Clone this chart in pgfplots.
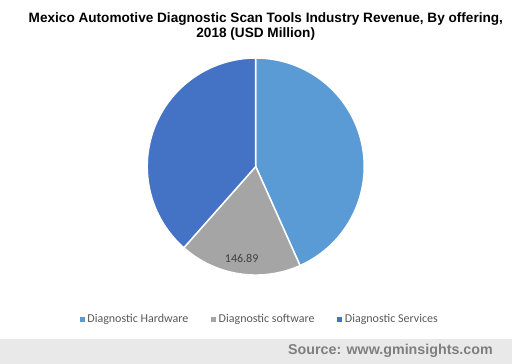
\documentclass[border=0pt]{standalone}
\usepackage{pgfplots}
\usepackage{pgfplotstable}
\pgfplotsset{compat=1.18}
\usepackage{fontspec}
\setmainfont{Liberation Sans}
\newfontfamily\carlito{Carlito}
\definecolor{hw}{HTML}{5B9BD5}
\definecolor{sw}{HTML}{A5A5A5}
\definecolor{sv}{HTML}{4472C4}
\definecolor{lgtext}{HTML}{595959}
\definecolor{lbltext}{HTML}{404040}
\definecolor{band}{HTML}{E9E9E9}
\definecolor{srctext}{HTML}{7F7F7F}

\pgfplotstableread{
label value
Hardware 349.0
Software 146.89
Services 310.0
}\pietable
\pgfplotstablegetelem{0}{value}\of\pietable \let\vA\pgfplotsretval
\pgfplotstablegetelem{1}{value}\of\pietable \let\vB\pgfplotsretval
\pgfplotstablegetelem{2}{value}\of\pietable \let\vC\pgfplotsretval
\pgfmathsetmacro\tot{\vA+\vB+\vC}
\pgfmathsetmacro\fA{\vA/\tot}
\pgfmathsetmacro\fB{\vB/\tot}
\pgfmathsetmacro\aA{90}
\pgfmathsetmacro\aB{90-360*\fA}
\pgfmathsetmacro\aC{\aB-360*\fB}
\pgfmathsetmacro\aD{-270}
\pgfmathsetmacro\mB{(\aB+\aC)/2}

\begin{document}
\begin{tikzpicture}[x=1pt,y=1pt]
\fill[band] (0,0) rectangle (384,18.75);
\node[anchor=base east, font=\bfseries\fontsize{10.7}{12}\selectfont, text=srctext, inner sep=0] at (369.75,6.75) {Source: www.gminsights.com};
\node[anchor=base, font=\bfseries\fontsize{10.2}{12}\selectfont, inner sep=0] at (199.4,256) {Mexico Automotive Diagnostic Scan Tools Industry Revenue, By offering,};
\node[anchor=base, font=\bfseries\fontsize{10.2}{12}\selectfont, inner sep=0] at (191.8,244.5) {2018 (USD Million)};
\begin{axis}[
  at={(191.8pt,148.1pt)}, anchor=center,
  scale only axis, width=162.75pt, height=162.75pt,
  xmin=-1, xmax=1, ymin=-1, ymax=1,
  hide axis, clip=false,
  legend style={at={(axis description cs:0.52,-0.203)}, anchor=center, draw=none, fill=none,
    font=\carlito\fontsize{9}{10}\selectfont, text=lgtext, legend columns=3,
    /tikz/every even column/.append style={column sep=15pt}},
  legend image code/.code={\fill[#1,draw=none] (0pt,-1.9pt) rectangle (3.8pt,1.9pt);},
]
\addplot[forget plot, fill=hw, draw=white, line width=1.1pt, domain=\aB:\aA, samples=120, variable=\t] ({cos(\t)},{sin(\t)}) -- (axis cs:0,0) -- cycle;
\addplot[forget plot, fill=sw, draw=white, line width=1.1pt, domain=\aC:\aB, samples=80, variable=\t] ({cos(\t)},{sin(\t)}) -- (axis cs:0,0) -- cycle;
\addplot[forget plot, fill=sv, draw=white, line width=1.1pt, domain=\aD:\aC, samples=120, variable=\t] ({cos(\t)},{sin(\t)}) -- (axis cs:0,0) -- cycle;
\addlegendimage{fill=hw,draw=none}
\addlegendimage{fill=sw,draw=none}
\addlegendimage{fill=sv,draw=none}
\legend{Diagnostic Hardware, Diagnostic software, Diagnostic Services}
\node[font=\carlito\fontsize{9}{10}\selectfont, text=lbltext] at (axis cs:{0.855*cos(\mB)},{0.855*sin(\mB)}) {146.89};
\end{axis}
\pgfresetboundingbox
\path[use as bounding box] (0,0) rectangle (384,273);
\end{tikzpicture}
\end{document}
